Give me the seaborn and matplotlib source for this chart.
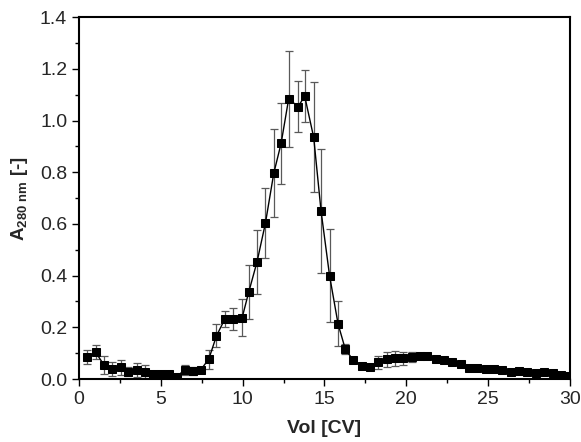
import matplotlib
matplotlib.use("Agg")
import matplotlib.pyplot as plt
import seaborn as sns
from matplotlib.ticker import MultipleLocator

# elution profile
vol = [0.51, 1.02, 1.53, 2.00, 2.54, 3.01, 3.52, 4.01, 4.51, 4.98,
       5.49, 5.96, 6.45, 6.96, 7.43, 7.93, 8.40, 8.91, 9.40, 9.97,
       10.37, 10.88, 11.39, 11.90, 12.35, 12.81, 13.39, 13.79, 14.34, 14.79,
       15.31, 15.83, 16.27, 16.74, 17.29, 17.80, 18.27, 18.82, 19.32, 19.79,
       20.34, 20.81, 21.29, 21.81, 22.31, 22.82, 23.33, 23.84, 24.34, 24.86,
       25.36, 25.87, 26.40, 26.91, 27.38, 27.91, 28.41, 28.94, 29.45, 29.94]
a280 = [0.084, 0.103, 0.054, 0.037, 0.045, 0.028, 0.035, 0.028, 0.019, 0.019,
        0.019, 0.009, 0.035, 0.032, 0.035, 0.077, 0.167, 0.232, 0.232, 0.238,
        0.336, 0.454, 0.603, 0.796, 0.912, 1.084, 1.054, 1.095, 0.935, 0.650,
        0.400, 0.213, 0.116, 0.074, 0.051, 0.045, 0.065, 0.076, 0.080, 0.080,
        0.086, 0.089, 0.089, 0.077, 0.073, 0.065, 0.058, 0.041, 0.044, 0.039,
        0.038, 0.035, 0.026, 0.032, 0.026, 0.022, 0.028, 0.022, 0.015, 0.012]
a280_sd = [0.027, 0.027, 0.035, 0.027, 0.028, 0.017, 0.026, 0.025, 0.008, 0.005,
           0.004, 0.004, 0.020, 0.015, 0.010, 0.037, 0.044, 0.030, 0.043, 0.070,
           0.105, 0.124, 0.135, 0.170, 0.157, 0.187, 0.100, 0.100, 0.213, 0.240,
           0.180, 0.087, 0.020, 0.008, 0.005, 0.005, 0.025, 0.029, 0.030, 0.025,
           0.020, 0.010, 0.008, 0.005, 0.004, 0.004, 0.004, 0.004, 0.004, 0.004,
           0.004, 0.004, 0.004, 0.010, 0.012, 0.004, 0.004, 0.004, 0.004, 0.004]

sns.set_style("ticks")
plt.rcParams["font.family"] = ["Liberation Sans", "DejaVu Sans"]
plt.rcParams["mathtext.fontset"] = "custom"
plt.rcParams["mathtext.bf"] = "Liberation Sans:bold"
plt.rcParams["mathtext.rm"] = "Liberation Sans:bold"

fig = plt.figure(figsize=(5.81, 4.42), dpi=100)
ax = fig.add_axes([0.136, 0.1425, 0.845, 0.8185])

ax.errorbar(vol, a280, yerr=a280_sd, fmt="none", ecolor="0.35",
            elinewidth=0.9, capsize=3, capthick=0.9, zorder=2)
sns.lineplot(x=vol, y=a280, ax=ax, color="black", linewidth=1,
             marker="s", markersize=6.3, markeredgecolor="black",
             markerfacecolor="black", zorder=3)

ax.set_xlim(0, 30)
ax.set_ylim(0, 1.4)
ax.xaxis.set_major_locator(MultipleLocator(5))
ax.xaxis.set_minor_locator(MultipleLocator(2.5))
ax.yaxis.set_major_locator(MultipleLocator(0.2))
ax.yaxis.set_minor_locator(MultipleLocator(0.1))
ax.yaxis.set_major_formatter(plt.FormatStrFormatter("%.1f"))

for s in ax.spines.values():
    s.set_linewidth(1.5)
    s.set_color("black")
ax.tick_params(which="major", direction="out", length=5, width=1,
               labelsize=14, top=False, right=False, color="black")
ax.tick_params(which="minor", direction="out", length=3, width=1,
               top=False, right=False, color="black")

ax.set_xlabel("Vol [CV]", fontsize=14, fontweight="bold", labelpad=9)
ax.set_ylabel(r"A$_{\mathbf{280\ nm}}$ [-]", fontsize=13.5,
              fontweight="bold", labelpad=7)

fig.savefig("out.png", dpi=100)
